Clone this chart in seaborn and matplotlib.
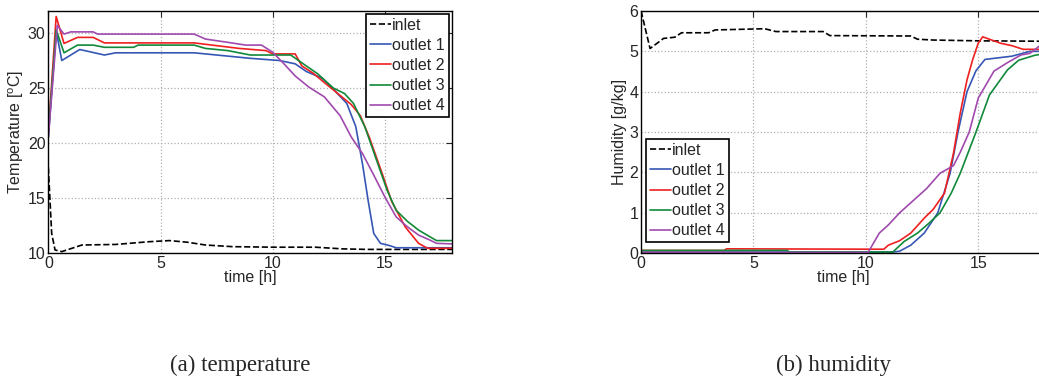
import pandas as pd
import seaborn as sns
import matplotlib.pyplot as plt

# Temperature panel (a): time [h] and temperature [oC] per series
t_in_a = [0, 0.15, 0.3, 0.6, 1.5, 3.0, 4.5, 5.4, 6.2, 7.0, 8.2, 10, 11.9, 13.1, 14.2, 18]
T_in = [17.8, 11.8, 10.3, 10.15, 10.75, 10.8, 11.05, 11.15, 11.0, 10.75, 10.6, 10.55, 10.55, 10.4, 10.35, 10.35]

t_o1_a = [0, 0.35, 0.6, 1.4, 2.5, 3.0, 6.5, 7.5, 9.0, 10.3, 11.0, 11.5, 12.2, 12.7, 13.3, 13.7, 14.0, 14.25, 14.5, 14.8, 15.2, 15.5, 18]
T_o1 = [20.5, 30.2, 27.5, 28.5, 28.0, 28.2, 28.2, 28.0, 27.7, 27.5, 27.2, 26.5, 25.9, 24.9, 23.6, 21.5, 18.1, 14.8, 11.8, 10.9, 10.7, 10.5, 10.5]

t_o2_a = [0, 0.35, 0.7, 1.3, 2.0, 2.5, 6.5, 7.5, 8.5, 9.7, 10.0, 11.0, 11.3, 11.8, 12.3, 12.9, 13.5, 13.9, 14.3, 14.9, 15.3, 15.9, 16.5, 16.9, 18]
T_o2 = [20.9, 31.5, 29.05, 29.6, 29.6, 29.1, 29.1, 28.85, 28.6, 28.4, 28.1, 28.1, 27.0, 26.35, 25.5, 24.5, 23.5, 22.5, 20.55, 17.1, 14.7, 12.4, 10.9, 10.45, 10.45]

t_o3_a = [0, 0.35, 0.7, 1.3, 2.0, 2.5, 3.8, 4.0, 6.5, 7.0, 8.0, 9.0, 10.8, 11.5, 12.0, 12.7, 13.2, 13.6, 14.1, 14.6, 15.1, 15.5, 16.0, 16.5, 17.0, 17.3, 18]
T_o3 = [20.8, 30.3, 28.2, 28.9, 28.9, 28.7, 28.7, 28.9, 28.9, 28.6, 28.4, 28.0, 28.0, 27.0, 26.3, 25.0, 24.5, 23.6, 21.5, 18.6, 15.7, 13.9, 12.9, 12.1, 11.5, 11.15, 11.15]

t_o4_a = [0, 0.4, 0.7, 1.0, 2.0, 2.2, 6.5, 7.0, 8.0, 8.8, 9.5, 10.0, 10.5, 11.0, 11.6, 12.3, 13.0, 13.5, 14.0, 14.5, 15.0, 15.5, 16.0, 16.5, 17.0, 17.3, 18]
T_o4 = [20.5, 30.7, 29.9, 30.1, 30.1, 29.9, 29.9, 29.45, 29.15, 28.9, 28.9, 28.25, 27.2, 26.1, 25.1, 24.2, 22.5, 20.55, 19.05, 17.1, 15.1, 13.3, 12.4, 11.65, 11.2, 10.9, 10.85]

# Humidity panel (b): time [h] and humidity [g/kg] per series
t_in_b = [0, 0.4, 1.0, 1.5, 1.8, 3.0, 3.3, 5.5, 6.0, 8.1, 8.4, 12.0, 12.3, 13.0, 15.0, 18]
H_in = [6.0, 5.07, 5.32, 5.35, 5.46, 5.46, 5.53, 5.56, 5.49, 5.49, 5.39, 5.38, 5.3, 5.28, 5.26, 5.25]

t_o1_b = [0, 11.2, 11.5, 12.0, 12.6, 13.2, 13.75, 14.1, 14.5, 14.9, 15.3, 15.6, 16.5, 17.3, 18]
H_o1 = [0.03, 0.03, 0.05, 0.2, 0.5, 1.0, 1.98, 3.0, 4.0, 4.52, 4.8, 4.82, 4.88, 5.0, 5.0]

t_o2_b = [0, 3.7, 3.8, 10.8, 11.0, 11.5, 12.0, 12.6, 13.0, 13.5, 13.9, 14.2, 14.5, 14.75, 15.0, 15.2, 15.5, 16.0, 16.5, 17.0, 18]
H_o2 = [0.07, 0.07, 0.11, 0.1, 0.2, 0.31, 0.5, 0.87, 1.09, 1.49, 2.48, 3.47, 4.29, 4.79, 5.2, 5.36, 5.3, 5.2, 5.14, 5.05, 5.05]

t_o3_b = [0, 6.5, 6.6, 11.2, 11.7, 12.3, 12.8, 13.3, 13.8, 14.2, 14.9, 15.5, 16.3, 16.8, 17.5, 18]
H_o3 = [0.07, 0.07, 0.03, 0.03, 0.29, 0.5, 0.74, 1.0, 1.49, 1.98, 3.0, 3.92, 4.54, 4.78, 4.9, 4.95]

t_o4_b = [0, 10.1, 10.6, 11.0, 11.5, 12.2, 12.7, 13.3, 13.9, 14.2, 14.6, 15.0, 15.7, 16.3, 16.9, 17.3, 18]
H_o4 = [0.02, 0.02, 0.5, 0.7, 1.0, 1.35, 1.6, 1.98, 2.17, 2.5, 3.0, 3.84, 4.51, 4.72, 4.91, 4.95, 5.25]

labels = ['inlet', 'outlet 1', 'outlet 2', 'outlet 3', 'outlet 4']
colors = ['black', '#3657b4', '#ee2020', '#11893a', '#a04aae']
styles = ['--', '-', '-', '-', '-']

sns.set_style('white')
plt.rcParams['font.family'] = ['Liberation Sans', 'DejaVu Sans']
plt.rcParams['mathtext.fontset'] = 'custom'
plt.rcParams['mathtext.rm'] = 'Liberation Sans'
plt.rcParams['mathtext.it'] = 'Liberation Sans'

fig = plt.figure(figsize=(10.39, 3.78), dpi=100)
ax1 = fig.add_axes([0.0465, 0.33, 0.3888, 0.641])
ax2 = fig.add_axes([0.617, 0.33, 0.3894, 0.641])

panels = [
    (ax1, [t_in_a, t_o1_a, t_o2_a, t_o3_a, t_o4_a], [T_in, T_o1, T_o2, T_o3, T_o4]),
    (ax2, [t_in_b, t_o1_b, t_o2_b, t_o3_b, t_o4_b], [H_in, H_o1, H_o2, H_o3, H_o4]),
]

for ax, ts, ys in panels:
    for t, y, lab, c, ls in zip(ts, ys, labels, colors, styles):
        df = pd.DataFrame({'time': t, 'value': y})
        sns.lineplot(data=df, x='time', y='value', ax=ax, color=c, linestyle=ls,
                     linewidth=1.2, label=lab)
    ax.set_xlim(0, 18)
    ax.set_xticks([0, 5, 10, 15])
    ax.grid(True, color='#b0b0b0', linestyle=':', linewidth=0.9)
    ax.tick_params(direction='in', labelsize=11.5, length=4, pad=2,
                   top=True, right=True)
    for s in ax.spines.values():
        s.set_color('black')
        s.set_linewidth(1.0)
    ax.set_xlabel('time [h]', fontsize=11.5, labelpad=-1)

ax1.set_ylim(10, 32)
ax1.set_yticks([10, 15, 20, 25, 30])
ax1.set_ylabel(r'Temperature [$^{\mathrm{o}}$C]', fontsize=11.5, labelpad=1)
ax2.set_ylim(0, 6)
ax2.set_yticks([0, 1, 2, 3, 4, 5, 6])
ax2.set_ylabel('Humidity [g/kg]', fontsize=11.5, labelpad=2)

leg_kw = dict(fontsize=11.5, fancybox=False, edgecolor='black', framealpha=1,
              handlelength=1.3, handletextpad=0.1, labelspacing=0.32,
              borderpad=0.25, borderaxespad=0)
leg1 = ax1.legend(loc='upper right', bbox_to_anchor=(0.992, 0.988), **leg_kw)
leg2 = ax2.legend(loc='lower left', bbox_to_anchor=(0.012, 0.045), **leg_kw)
for leg in (leg1, leg2):
    leg.get_frame().set_linewidth(1.2)

fig.text(240 / 1039, 1 - 365 / 378, '(a) temperature', ha='center', va='center',
         fontsize=16.5, family=['Liberation Serif'])
fig.text(834 / 1039, 1 - 365 / 378, '(b) humidity', ha='center', va='center',
         fontsize=16.5, family=['Liberation Serif'])

fig.savefig('out.png', dpi=100)
